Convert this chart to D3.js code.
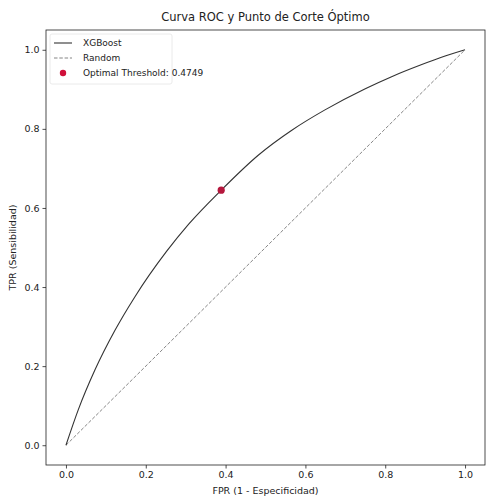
<!DOCTYPE html>
<html>
<head>
<meta charset="utf-8">
<script src="https://cdn.jsdelivr.net/npm/d3@7"></script>
<style>
body { margin: 0; background: #fff; }
text { font-family: "DejaVu Sans", sans-serif; }
</style>
</head>
<body>
<div id="chart"></div>
<script>
// ROC curve
var fpr = [0, 0.031, 0.0725, 0.1225, 0.1725, 0.252, 0.3075, 0.389, 0.4825, 0.565, 0.649, 0.75, 0.816, 0.89, 0.941, 1.0];
var tpr = [0, 0.09, 0.19, 0.29, 0.375, 0.49, 0.559, 0.645, 0.734, 0.796, 0.848, 0.9015, 0.932, 0.962, 0.981, 1.0];
var randomLine = [[0, 0], [1, 1]];
var optimal = {fpr: 0.389, tpr: 0.645, threshold: 0.4749};
var ticks = [0, 0.2, 0.4, 0.6, 0.8, 1.0];

var width = 486, height = 498;
var margin = {top: 30, right: 1, bottom: 33, left: 46};

var svg = d3.select('#chart').append('svg')
	.attr('width', width)
	.attr('height', height);

var x = d3.scaleLinear()
	.domain([-0.05, 1.05])
	.range([margin.left, width - margin.right]);

var y = d3.scaleLinear()
	.domain([-0.05, 1.05])
	.range([height - margin.bottom, margin.top]);

// axes
var xAxis = svg.append('g')
	.attr('transform', 'translate(0,' + (height - margin.bottom) + ')')
	.call(d3.axisBottom(x).tickValues(ticks).tickFormat(d3.format('.1f')).tickSize(3.5).tickPadding(3));

var yAxis = svg.append('g')
	.attr('transform', 'translate(' + margin.left + ',0)')
	.call(d3.axisLeft(y).tickValues(ticks).tickFormat(d3.format('.1f')).tickSize(3.5).tickPadding(3));

[xAxis, yAxis].forEach(function(a){
	a.select('.domain').remove();
	a.selectAll('text').attr('font-size', 9.5).attr('fill', '#222');
	a.selectAll('line').attr('stroke', '#222').attr('stroke-width', 0.8);
});

// frame
svg.append('rect')
	.attr('x', margin.left)
	.attr('y', margin.top)
	.attr('width', width - margin.left - margin.right)
	.attr('height', height - margin.top - margin.bottom)
	.attr('fill', 'none')
	.attr('stroke', '#222')
	.attr('stroke-width', 0.8);

// random line
svg.append('path')
	.datum(randomLine)
	.attr('fill', 'none')
	.attr('stroke', '#777')
	.attr('stroke-width', 0.9)
	.attr('stroke-dasharray', '3.5,1.8')
	.attr('d', d3.line().x(d => x(d[0])).y(d => y(d[1])));

// ROC curve
var roc = fpr.map((f, i) => [f, tpr[i]]);
svg.append('path')
	.datum(roc)
	.attr('fill', 'none')
	.attr('stroke', '#333')
	.attr('stroke-width', 1.1)
	.attr('stroke-linejoin', 'round')
	.attr('d', d3.line().curve(d3.curveMonotoneX).x(d => x(d[0])).y(d => y(d[1])));

// optimal point
svg.append('circle')
	.attr('cx', x(optimal.fpr))
	.attr('cy', y(optimal.tpr))
	.attr('r', 3.6)
	.attr('fill', '#b5173d');

// title and labels
svg.append('text')
	.attr('x', (margin.left + width - margin.right) / 2)
	.attr('y', 21)
	.attr('text-anchor', 'middle')
	.attr('font-size', 11.5)
	.attr('fill', '#222')
	.text('Curva ROC y Punto de Corte Óptimo');

svg.append('text')
	.attr('x', (margin.left + width - margin.right) / 2)
	.attr('y', 494)
	.attr('text-anchor', 'middle')
	.attr('font-size', 9.5)
	.attr('fill', '#222')
	.text('FPR (1 - Especificidad)');

svg.append('text')
	.attr('transform', 'translate(16,' + ((margin.top + height - margin.bottom) / 2) + ') rotate(-90)')
	.attr('text-anchor', 'middle')
	.attr('font-size', 9.5)
	.attr('fill', '#222')
	.text('TPR (Sensibilidad)');

// legend
var lg = svg.append('g').attr('transform', 'translate(' + (margin.left + 4) + ',' + (margin.top + 4) + ')');
lg.append('rect')
	.attr('width', 122).attr('height', 50).attr('rx', 2)
	.attr('fill', '#fff').attr('fill-opacity', 0.8)
	.attr('stroke', '#e4e4e4').attr('stroke-width', 0.8);

var items = [
	{label: 'XGBoost', type: 'line'},
	{label: 'Random', type: 'dash'},
	{label: 'Optimal Threshold: ' + optimal.threshold, type: 'dot'}
];
items.forEach(function(it, i){
	var yy = 9 + i * 15;
	if(it.type === 'line'){
		lg.append('line').attr('x1', 4).attr('x2', 22).attr('y1', yy).attr('y2', yy)
			.attr('stroke', '#333').attr('stroke-width', 1.1);
	} else if(it.type === 'dash'){
		lg.append('line').attr('x1', 4).attr('x2', 22).attr('y1', yy).attr('y2', yy)
			.attr('stroke', '#777').attr('stroke-width', 0.9).attr('stroke-dasharray', '3.5,1.8');
	} else {
		lg.append('circle').attr('cx', 13).attr('cy', yy).attr('r', 3.2).attr('fill', '#d0103a');
	}
	lg.append('text').attr('x', 33).attr('y', yy + 3.3)
		.attr('font-size', 9).attr('fill', '#222').text(it.label);
});
</script>
</body>
</html>
